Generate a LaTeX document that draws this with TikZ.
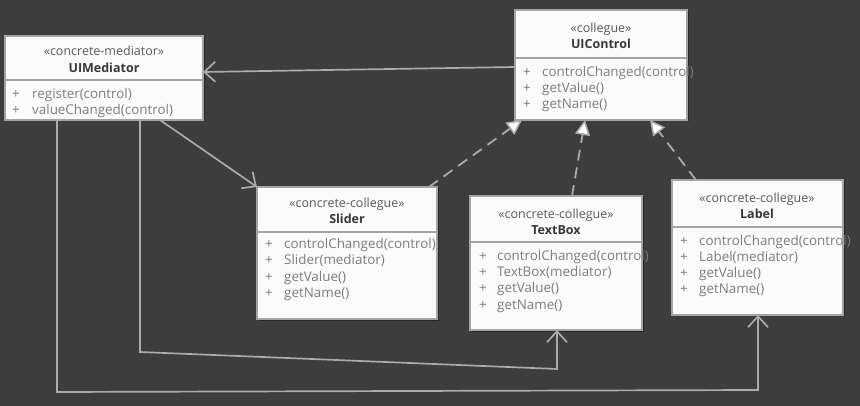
\documentclass[tikz,border=0pt]{standalone}
\usepackage{fontspec}
\setmainfont{Open Sans}
\usetikzlibrary{arrows.meta,shadows}
\definecolor{bg}{HTML}{3D3D3D}
\definecolor{boxfill}{HTML}{FBFBFB}
\definecolor{boxline}{HTML}{A4A4A4}
\definecolor{wire}{HTML}{ABABAB}
\definecolor{stereo}{HTML}{5A5A5A}
\definecolor{cname}{HTML}{383838}
\definecolor{meth}{HTML}{7C7C7C}
\tikzset{
  umlbox/.style={draw=boxline, fill=boxfill, line width=1.6pt, rectangle, outer sep=0pt, inner sep=0pt, anchor=north west,
    drop shadow={shadow xshift=1.5pt, shadow yshift=-1.5pt, fill=black, opacity=0.35}},
  divider/.style={draw=boxline, line width=1.6pt},
  stereotxt/.style={font=\fontsize{12.5}{14}\selectfont, text=stereo, inner sep=0pt, anchor=base},
  nametxt/.style={font=\fontsize{12.5}{14}\selectfont\bfseries, text=cname, inner sep=0pt, anchor=base},
  methtxt/.style={font=\fontsize{13.4}{15}\selectfont, text=meth, inner sep=0pt, anchor=base west},
  assoc/.style={draw=wire, line width=1.7pt, -{Straight Barb[length=11pt,width=20pt,line width=1.7pt]}},
  realize/.style={draw=wire, line width=1.8pt, dash pattern=on 11pt off 7pt, -{Triangle[open, fill=white, length=15pt, width=15pt, line width=1.5pt]}},
}
\begin{document}
\begin{tikzpicture}[x=1pt,y=-1pt]
\fill[bg] (0,0) rectangle (860,406);
\path[use as bounding box] (0,0) rectangle (860,406);

% UIMediator
\node[umlbox, minimum width=198pt, minimum height=84pt] (med) at (5,36) {};
\draw[divider] (med.west |- 0,80) -- (med.east |- 0,80);
\node[stereotxt] (medst) at (104,56) {«concrete-mediator»};
\node[nametxt] (medname) at (104,73) {UIMediator};
\node[methtxt] (medp1) at (12,99) {+};
\node[methtxt] (medm1) at (32,99) {register(control)};
\node[methtxt] (medp2) at (12,115) {+};
\node[methtxt] (medm2) at (32,115) {valueChanged(control)};

% UIControl
\node[umlbox, minimum width=172pt, minimum height=110pt] (ctl) at (515,10) {};
\draw[divider] (ctl.west |- 0,58) -- (ctl.east |- 0,58);
\node[stereotxt] (ctlst) at (601,33) {«collegue»};
\node[nametxt] (ctlname) at (601,49) {UIControl};
\node[methtxt] (ctlp1) at (523,77) {+};
\node[methtxt] (ctlm1) at (542,77) {controlChanged(control)};
\node[methtxt] (ctlp2) at (523,93) {+};
\node[methtxt] (ctlm2) at (542,93) {getValue()};
\node[methtxt] (ctlp3) at (523,109) {+};
\node[methtxt] (ctlm3) at (542,109) {getName()};

% Slider
\node[umlbox, minimum width=180pt, minimum height=132pt] (sld) at (257,187) {};
\draw[divider] (sld.west |- 0,232) -- (sld.east |- 0,232);
\node[stereotxt] (sldst) at (347,208) {«concrete-collegue»};
\node[nametxt] (sldname) at (347,224) {Slider};
\node[methtxt] (sldp1) at (265,249) {+};
\node[methtxt] (sldm1) at (284,249) {controlChanged(control)};
\node[methtxt] (sldp2) at (265,265) {+};
\node[methtxt] (sldm2) at (284,265) {Slider(mediator)};
\node[methtxt] (sldp3) at (265,282) {+};
\node[methtxt] (sldm3) at (284,282) {getValue()};
\node[methtxt] (sldp4) at (265,298) {+};
\node[methtxt] (sldm4) at (284,298) {getName()};

% TextBox
\node[umlbox, minimum width=172pt, minimum height=134pt] (txt) at (470,196) {};
\draw[divider] (txt.west |- 0,242) -- (txt.east |- 0,242);
\node[stereotxt] (txtst) at (556,219) {«concrete-collegue»};
\node[nametxt] (txtname) at (556,235) {TextBox};
\node[methtxt] (txtp1) at (479,261) {+};
\node[methtxt] (txtm1) at (497,261) {controlChanged(control)};
\node[methtxt] (txtp2) at (479,277) {+};
\node[methtxt] (txtm2) at (497,277) {TextBox(mediator)};
\node[methtxt] (txtp3) at (479,293) {+};
\node[methtxt] (txtm3) at (497,293) {getValue()};
\node[methtxt] (txtp4) at (479,309) {+};
\node[methtxt] (txtm4) at (497,309) {getName()};

% Label
\node[umlbox, minimum width=171pt, minimum height=135pt] (lbl) at (672,180) {};
\draw[divider] (lbl.west |- 0,227) -- (lbl.east |- 0,227);
\node[stereotxt] (lblst) at (757,203) {«concrete-collegue»};
\node[nametxt] (lblname) at (757,219) {Label};
\node[methtxt] (lblp1) at (680,246) {+};
\node[methtxt] (lblm1) at (699,246) {controlChanged(control)};
\node[methtxt] (lblp2) at (680,262) {+};
\node[methtxt] (lblm2) at (699,262) {Label(mediator)};
\node[methtxt] (lblp3) at (680,278) {+};
\node[methtxt] (lblm3) at (699,278) {getValue()};
\node[methtxt] (lblp4) at (680,294) {+};
\node[methtxt] (lblm4) at (699,294) {getName()};

% coordinates for connectors
\coordinate (c1) at (57,392);
\coordinate (c2) at (758,390);
\coordinate (c3) at (140,352);
\coordinate (c4) at (557,369);

% associations
\draw[assoc] (ctl.west |- 0,67) -- (med.east |- 0,72);
\draw[assoc] (med.south -| 160,0) -- (sld.north west);
\draw[assoc] (med.south -| 57,0) -- (c1) -- (c2) -- (lbl.south -| 758,0);
\draw[assoc] (med.south -| 140,0) -- (c3) -- (c4) -- (txt.south -| 557,0);

% realizations
\coordinate (s1) at ([xshift=-8pt]sld.north east);
\draw[realize] (s1) -- (ctl.south -| 522,0);
\draw[realize] (txt.north -| 572,0) -- (ctl.south -| 585,0);
\draw[realize] (lbl.north -| 696,0) -- (ctl.south -| 650,0);
\end{tikzpicture}
\end{document}
